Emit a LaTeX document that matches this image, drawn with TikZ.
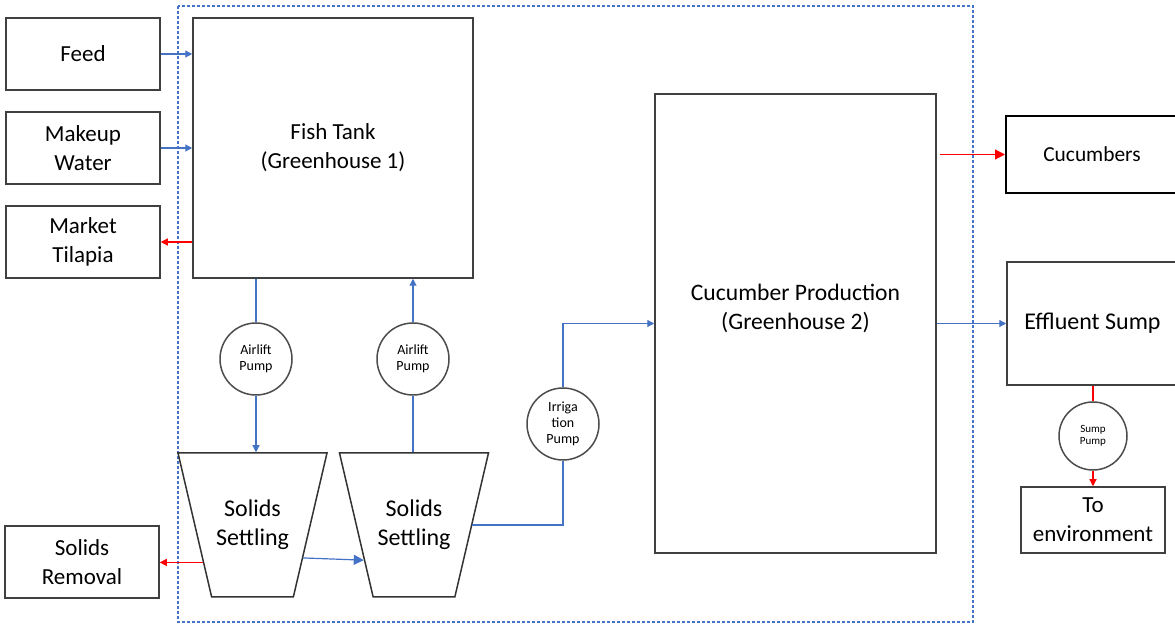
\documentclass[tikz,border=0pt]{standalone}
\usepackage{fontspec}
\setmainfont{Carlito}
\usetikzlibrary{arrows.meta,shapes.geometric}

\definecolor{flowblue}{RGB}{68,114,196}

\begin{document}
\begin{tikzpicture}[
  x=0.5pt, y=-0.5pt,
  every node/.style={inner sep=0pt},
  box/.style={draw=black!75,line width=0.75pt,minimum width=77pt,minimum height=36pt,align=center,font=\fontsize{11.5}{14.5}\selectfont},
  pump/.style={draw=black!70,line width=0.75pt,circle,minimum size=36pt,align=center,font=\fontsize{7}{8}\selectfont},
  settler/.style={draw=black!80,line width=0.75pt,trapezium,shape border rotate=180,trapezium stretches body,trapezium angle=76.5,inner ysep=22.6pt,minimum width=74.5pt,minimum height=72pt,align=center,font=\fontsize{12}{14.5}\selectfont},
  pipe/.style={flowblue,line width=0.6pt},
  water/.style={pipe,-{Triangle[length=3.5pt,width=3.5pt]}},
  product/.style={red,line width=0.6pt,-{Triangle[length=3.5pt,width=3.5pt]}},
  bigtip/.style={-{Triangle[length=5pt,width=5pt]}}
]
  \useasboundingbox (0,0) rectangle (1175,625);
  \clip (0,0) rectangle (1175,625);

  % system boundary
  \draw[flowblue,line width=0.6pt,dash pattern=on 1.5pt off 1pt] (178,6) rectangle (973,622);

  \node[box] (feed) at (83,54) {Feed};
  \node[box] (makeup) at (83,148) {Makeup\\Water};
  \node[box] (tilapia) at (83,242) {Market\\Tilapia};
  \node[box] (removal) at (82,562) {Solids\\Removal};
  \node[box,minimum width=140pt,minimum height=130pt] (fish) at (333,148) {Fish Tank\\(Greenhouse 1)};

  \node[pump] (air1) at (256,359) {Airlift\\Pump};
  \node[pump] (air2) at (413,359) {Airlift\\Pump};
  \node[settler] (s1) at (252.5,525) {Solids\\Settling};
  \node[settler] (s2) at (414,525) {Solids\\Settling};
  \node[pump] (irr) at (563,424) {Irriga\\tion\\Pump};

  \node[box,minimum width=140.5pt,minimum height=229.5pt] (prod) at (795.5,323.5) {};
  \node[align=center,font=\fontsize{11.8}{14.5}\selectfont] (prodlabel) at ([yshift=7.5pt]prod.center) {Cucumber Production\\(Greenhouse 2)};

  \node[box,draw=black,line width=1pt,minimum width=86pt,minimum height=38.5pt,font=\fontsize{10.7}{13}\selectfont] (cucumbers) at (1092,154.5) {Cucumbers};
  \node[box,minimum width=85.5pt,minimum height=61.5pt,font=\fontsize{12}{14}\selectfont] (sump) at (1092.5,323.5) {Effluent Sump};
  \node[pump,minimum size=34pt,font=\fontsize{5.5}{6.2}\selectfont] (sumppump) at (1093,436) {Sump\\Pump};
  \node[box,minimum width=72pt,minimum height=33pt] (env) at (1093,520) {To\\environment};

  % flows into and out of the fish tank
  \draw[water] (feed.east) -- (feed.east -| fish.west);
  \draw[water] (makeup.east) -- (makeup.east -| fish.west);
  \draw[product] (tilapia.east -| fish.west) -- (tilapia.east);
  \draw[pipe] (fish.south -| air1.north) -- (air1.north);
  \draw[water] (air1.south) -- (air1.south |- s1.90);
  \draw[pipe] (air2.south |- s2.90) -- (air2.south);
  \draw[water] (air2.north) -- (air2.north |- fish.south);

  % settling and irrigation
  \draw[water,bigtip] (s1.-33) -- (s2.215);
  \draw[product] (s1.217) -- (s1.217 -| removal.east);
  \draw[pipe] (s2.0) -| (irr.south);
  \draw[water] (irr.north) |- (prod.west);

  % greenhouse 2 outputs
  \draw[product,bigtip] ([xshift=1.5pt]prod.east |- cucumbers.west) -- (cucumbers.west);
  \draw[water] (prod.east) -- (sump.west);
  \draw[red,line width=0.6pt] (sump.south -| sumppump) -- (sumppump.north);
  \draw[product] (sumppump.south) -- (env.north);
\end{tikzpicture}
\end{document}
